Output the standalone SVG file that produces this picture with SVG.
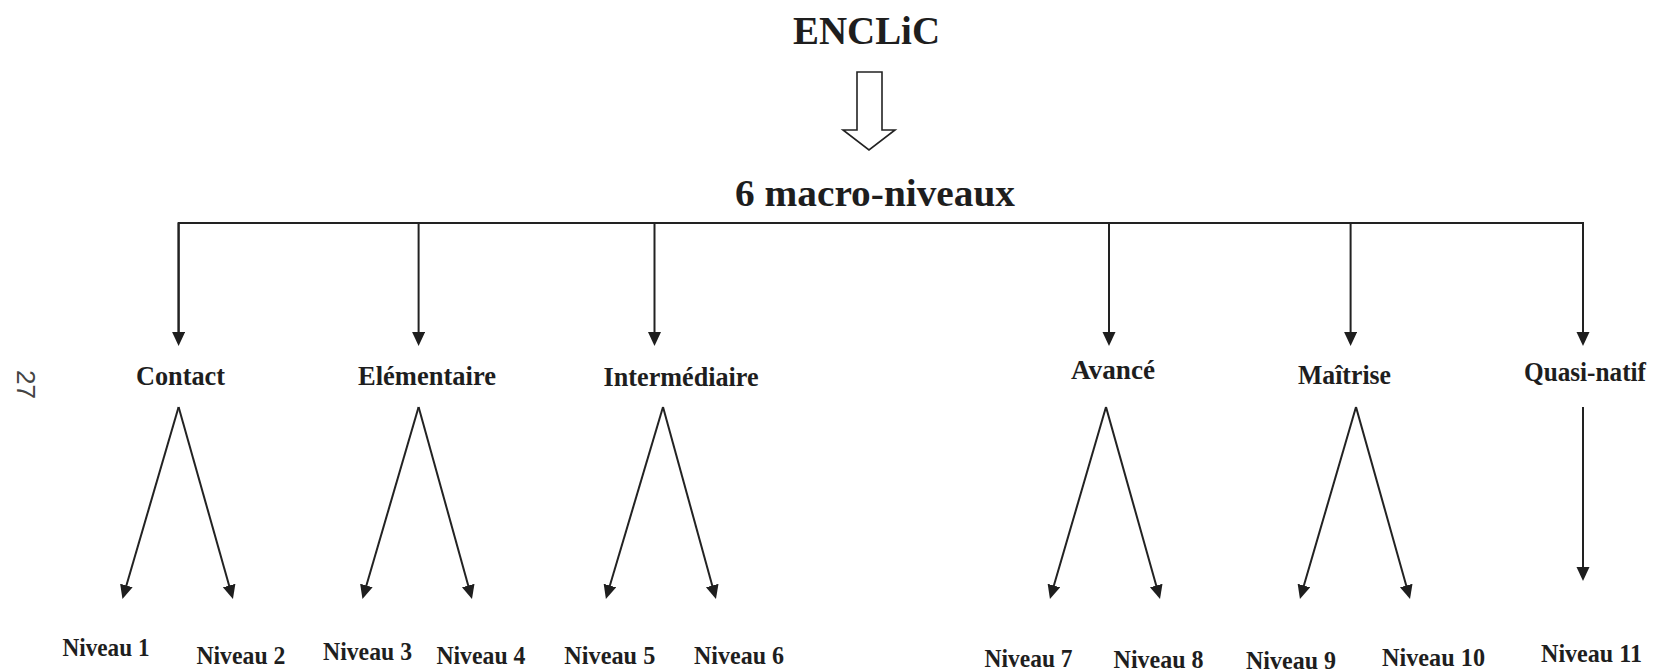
<svg xmlns="http://www.w3.org/2000/svg" width="1659" height="672" viewBox="0 0 1659 672">
<style>
.t{font-family:"Liberation Serif","Times New Roman",serif;font-weight:bold;fill:#1e1e1e}
.m{font-size:28px}
.n{font-size:26px}
.c{stroke:#222;stroke-width:2;fill:none}
.a{stroke:#222;stroke-width:2;fill:none;marker-end:url(#ah)}
</style>
<defs>
<marker id="ah" markerUnits="userSpaceOnUse" markerWidth="16" markerHeight="14" refX="1" refY="6.5" orient="auto">
<path d="M0,0 L14,6.5 L0,13 z" fill="#1e1e1e"/>
</marker>
</defs>
<rect width="1659" height="672" fill="#fff"/>
<text transform="translate(17,370) rotate(90)" style="font-family:'Liberation Sans',Arial,sans-serif;font-size:26px;fill:#444">27</text>
<g id="root">
<text class="t" x="793" y="44" font-size="41" textLength="147" lengthAdjust="spacingAndGlyphs">ENCLiC</text>
</g>
<g id="big-arrow">
<polygon points="857,72 882,72 882,130 895,130 869,150 843,130 857,130" fill="#fff" stroke="#222" stroke-width="1.6" stroke-linejoin="miter"/>
</g>
<g id="macro">
<text class="t" x="735" y="206" font-size="38" textLength="280" lengthAdjust="spacingAndGlyphs">6 macro-niveaux</text>
</g>
<g id="connectors">
<path class="c" d="M178.6,334 V223 H1583 V334"/>
<line class="a" x1="178.6" y1="223" x2="178.6" y2="333"/>
<line class="a" x1="418.6" y1="223" x2="418.6" y2="333"/>
<line class="a" x1="654.5" y1="223" x2="654.5" y2="333"/>
<line class="a" x1="1109" y1="223" x2="1109" y2="333"/>
<line class="a" x1="1350.6" y1="223" x2="1350.6" y2="333"/>
<line class="a" x1="1583" y1="223" x2="1583" y2="333"/>
<line class="a" x1="178.6" y1="407" x2="126.1" y2="586.5"/>
<line class="a" x1="178.6" y1="407" x2="229.4" y2="586.5"/>
<line class="a" x1="418.6" y1="407" x2="366.1" y2="586.5"/>
<line class="a" x1="418.6" y1="407" x2="468.5" y2="586.5"/>
<line class="a" x1="663" y1="407" x2="609.6" y2="586.5"/>
<line class="a" x1="663" y1="407" x2="712.5" y2="586.5"/>
<line class="a" x1="1106" y1="407" x2="1053.6" y2="586.5"/>
<line class="a" x1="1106" y1="407" x2="1156.5" y2="586.5"/>
<line class="a" x1="1356" y1="407" x2="1303.6" y2="586.5"/>
<line class="a" x1="1356" y1="407" x2="1406.5" y2="586.5"/>
<line class="a" x1="1583" y1="407" x2="1583" y2="568"/>
</g>
<g id="contact"><text class="t m" x="136" y="385" textLength="89" lengthAdjust="spacingAndGlyphs">Contact</text></g>
<g id="elementaire"><text class="t m" x="358" y="385" textLength="138" lengthAdjust="spacingAndGlyphs">Elémentaire</text></g>
<g id="intermediaire"><text class="t m" x="603.6" y="386" textLength="155" lengthAdjust="spacingAndGlyphs">Intermédiaire</text></g>
<g id="avance"><text class="t m" x="1071" y="379" textLength="84" lengthAdjust="spacingAndGlyphs">Avancé</text></g>
<g id="maitrise"><text class="t m" x="1298" y="384" textLength="93" lengthAdjust="spacingAndGlyphs">Maîtrise</text></g>
<g id="quasi-natif"><text class="t m" x="1524" y="381" textLength="122" lengthAdjust="spacingAndGlyphs">Quasi-natif</text></g>
<g id="niveau1"><text class="t n" x="62.5" y="656" textLength="87" lengthAdjust="spacingAndGlyphs">Niveau 1</text></g>
<g id="niveau2"><text class="t n" x="196.4" y="664" textLength="89" lengthAdjust="spacingAndGlyphs">Niveau 2</text></g>
<g id="niveau3"><text class="t n" x="323" y="660" textLength="89" lengthAdjust="spacingAndGlyphs">Niveau 3</text></g>
<g id="niveau4"><text class="t n" x="436.4" y="664" textLength="89" lengthAdjust="spacingAndGlyphs">Niveau 4</text></g>
<g id="niveau5"><text class="t n" x="564.3" y="664" textLength="91" lengthAdjust="spacingAndGlyphs">Niveau 5</text></g>
<g id="niveau6"><text class="t n" x="694" y="664" textLength="90" lengthAdjust="spacingAndGlyphs">Niveau 6</text></g>
<g id="niveau7"><text class="t n" x="984.6" y="667" textLength="88" lengthAdjust="spacingAndGlyphs">Niveau 7</text></g>
<g id="niveau8"><text class="t n" x="1113.6" y="668" textLength="90" lengthAdjust="spacingAndGlyphs">Niveau 8</text></g>
<g id="niveau9"><text class="t n" x="1246" y="669" textLength="90" lengthAdjust="spacingAndGlyphs">Niveau 9</text></g>
<g id="niveau10"><text class="t n" x="1382" y="666" textLength="103" lengthAdjust="spacingAndGlyphs">Niveau 10</text></g>
<g id="niveau11"><text class="t n" x="1541" y="662" textLength="101" lengthAdjust="spacingAndGlyphs">Niveau 11</text></g>
</svg>
